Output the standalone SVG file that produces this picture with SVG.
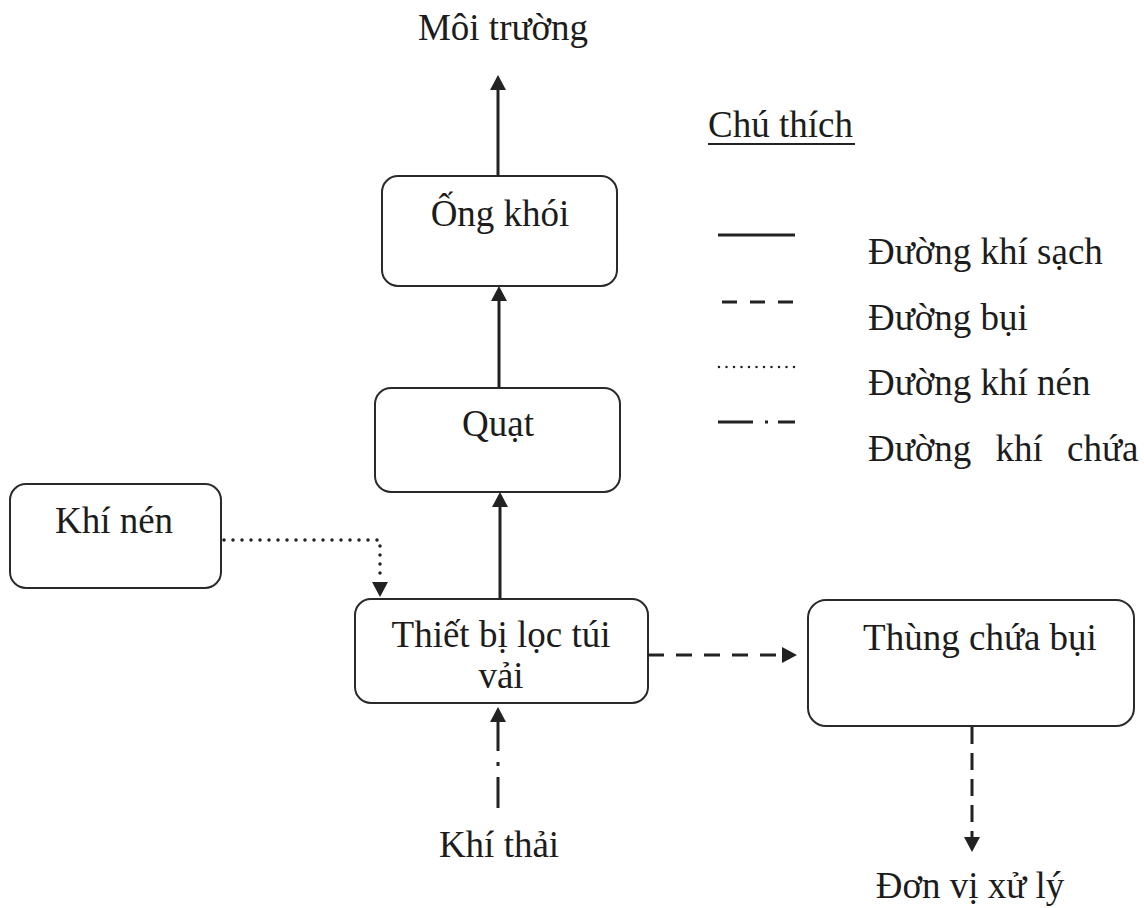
<svg xmlns="http://www.w3.org/2000/svg" width="1144" height="908" viewBox="0 0 1144 908">
<defs>
<style>
.box{fill:#fff;stroke:#2a2a2a;stroke-width:2}
.t{font-family:"Liberation Serif","Times New Roman",serif;font-size:37px;fill:#1c1c1c}
.m{text-anchor:middle}
.c{fill:none;stroke:#222;stroke-width:3}
.dash{stroke-dasharray:16 12}
.dot{stroke-linecap:round;stroke-width:3.5;stroke-dasharray:0 9}
</style>
<marker id="ah" viewBox="0 0 15 16" refX="0" refY="8" markerWidth="15" markerHeight="16" markerUnits="userSpaceOnUse" orient="auto">
<path d="M0,0 L15,8 L0,16 z" fill="#222"/>
</marker>
</defs>
<rect width="1144" height="908" fill="#fff"/>

<text class="t m" x="503" y="40">Môi trường</text>

<g id="ong-khoi"><rect class="box" x="382" y="176" width="235" height="110" rx="16"/><text class="t m" x="500" y="226">Ống khói</text></g>
<g id="quat"><rect class="box" x="375" y="388" width="245" height="104" rx="16"/><text class="t m" x="498" y="436">Quạt</text></g>
<g id="khi-nen"><rect class="box" x="10" y="484" width="211" height="104" rx="16"/><text class="t m" x="114" y="533">Khí nén</text></g>
<g id="thiet-bi"><rect class="box" x="355" y="599" width="293" height="104" rx="16"/><text class="t m" x="501" y="647">Thiết bị lọc túi</text><text class="t m" x="501" y="688">vải</text></g>
<g id="thung"><rect class="box" x="808" y="600" width="326" height="126" rx="18"/><text class="t m" x="980" y="650">Thùng chứa bụi</text></g>

<text class="t m" x="499" y="857">Khí thải</text>
<text class="t m" x="970" y="898">Đơn vị xử lý</text>

<g id="connectors">
<path class="c" d="M498,176 V90" marker-end="url(#ah)"/>
<path class="c" d="M499,388 V301" marker-end="url(#ah)"/>
<path class="c" d="M500,599 V507" marker-end="url(#ah)"/>
<path class="c dash" d="M648,655 H782" marker-end="url(#ah)"/>
<path class="c" d="M972,727 V837" style="stroke-dasharray:17 9" marker-end="url(#ah)"/>
<path class="c dot" d="M224,540 H380 V582" marker-end="url(#ah)"/>
<path class="c" d="M498,808 V722" style="stroke-dasharray:31 11 4 11 40" marker-end="url(#ah)"/>
</g>

<g id="legend">
<text class="t" x="708" y="137">Chú thích</text>
<line x1="708" y1="144" x2="855" y2="144" stroke="#222" stroke-width="2"/>
<line class="c" x1="718" y1="235" x2="795" y2="235"/>
<line class="c" x1="722" y1="302" x2="795" y2="302" style="stroke-dasharray:15 13"/>
<line x1="719" y1="367" x2="795" y2="367" stroke="#222" stroke-width="2.5" stroke-linecap="round" stroke-dasharray="0 7.5"/>
<line class="c" x1="718" y1="422" x2="795" y2="422" style="stroke-dasharray:35 12 3 10 20"/>
<text class="t" x="868" y="264">Đường khí sạch</text>
<text class="t" x="868" y="330">Đường bụi</text>
<text class="t" x="868" y="395">Đường khí nén</text>
<text class="t" x="868" y="461" word-spacing="15">Đường khí chứa</text>
</g>
</svg>
